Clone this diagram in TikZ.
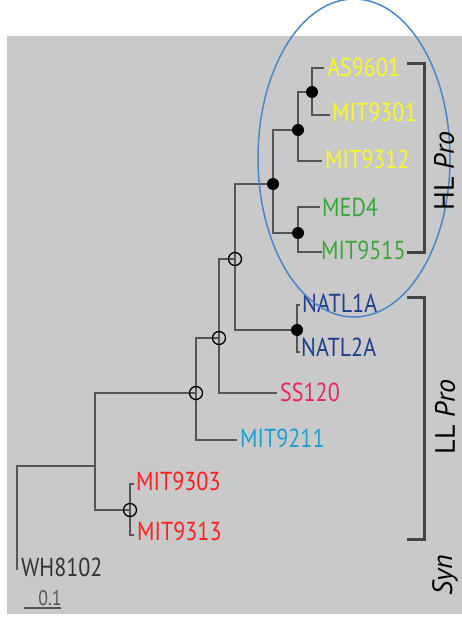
\documentclass[tikz,border=0pt]{standalone}
\usepackage{fontspec}
\setmainfont{PT Sans}[FakeStretch=0.85]
\newfontfamily\grpfont{PT Sans}
\definecolor{bg}{RGB}{201,201,201}
\definecolor{branchgray}{RGB}{85,85,85}
\definecolor{brackgray}{RGB}{68,68,68}
\definecolor{ellblue}{RGB}{74,134,200}
\definecolor{hlyellow}{RGB}{248,248,40}
\definecolor{hlgreen}{RGB}{59,165,59}
\definecolor{llnavy}{RGB}{30,61,140}
\definecolor{sspink}{RGB}{232,38,94}
\definecolor{mitcyan}{RGB}{26,160,208}
\definecolor{mitred}{RGB}{255,31,31}
\definecolor{synblack}{RGB}{51,51,51}
\begin{document}
\begin{tikzpicture}[x=1pt,y=-1pt,
  branch/.style={draw=branchgray, line width=2pt},
  brack/.style={draw=brackgray, line width=3pt},
  lab/.style={anchor=west, inner sep=0pt, font=\fontsize{26}{26}\selectfont},
  grp/.style={rotate=90, inner sep=0pt, font=\grpfont\fontsize{28}{28}\selectfont, text=black},
  fulldot/.style={circle, fill=black, inner sep=0pt, minimum size=12pt},
  opendot/.style={circle, draw=black, line width=1.3pt, inner sep=0pt, minimum size=13pt}]
\useasboundingbox (0,0) rectangle (462,617);
\fill[white] (0,0) rectangle (462,617);
\fill[bg] (7,36) rectangle (462,614);

% internal nodes
\coordinate (n1) at (312,92);
\coordinate (n2) at (298,130);
\coordinate (n3) at (298,233);
\coordinate (n4) at (273,184);
\coordinate (n5) at (235,259);
\coordinate (nat) at (297,330);
\coordinate (n6) at (219,338);
\coordinate (n7) at (196,393);
\coordinate (n8) at (130,510);
\coordinate (n9) at (95,466);
\coordinate (root) at (17,466);

% tips
\coordinate (tAS) at (324,68);
\coordinate (t9301) at (330,115);
\coordinate (t9312) at (322,161);
\coordinate (tMED) at (320,207);
\coordinate (t9515) at (322,252);
\coordinate (tN1) at (300,305);
\coordinate (tN2) at (300,352);
\coordinate (tSS) at (277,393);
\coordinate (t9211) at (237,440);
\coordinate (t9303) at (134,484);
\coordinate (t9313) at (134,535);
\coordinate (tWH) at (17,570);

% branches
\draw[branch] (n1) |- (tAS);
\draw[branch] (n1) |- (t9301);
\draw[branch] (n2) |- (n1);
\draw[branch] (n2) |- (t9312);
\draw[branch] (n3) |- (tMED);
\draw[branch] (n3) |- (t9515);
\draw[branch] (n4) |- (n2);
\draw[branch] (n4) |- (n3);
\draw[branch] (n5) |- (n4);
\draw[branch] (n5) |- (nat);
\draw[branch] (nat) |- (tN1);
\draw[branch] (nat) |- (tN2);
\draw[branch] (n6) |- (n5);
\draw[branch] (n6) |- (tSS);
\draw[branch] (n7) |- (n6);
\draw[branch] (n7) |- (t9211);
\draw[branch] (n9) |- (n7);
\draw[branch] (n9) |- (n8);
\draw[branch] (n8) |- (t9303);
\draw[branch] (n8) |- (t9313);
\draw[branch] (tWH) -- (root) -- (n9);

% node markers
\node[fulldot] (d1) at (n1) {};
\node[fulldot] (d2) at (n2) {};
\node[fulldot] (d3) at (n3) {};
\node[fulldot] (d4) at (n4) {};
\node[fulldot] (dnat) at (nat) {};
\node[opendot] (o5) at (n5) {};
\node[opendot] (o6) at (n6) {};
\node[opendot] (o7) at (n7) {};
\node[opendot] (o8) at (n8) {};

% labels
\node[lab, text=hlyellow] (lAS) at (327,67) {AS9601};
\node[lab, text=hlyellow] (l9301) at (332,112) {MIT9301};
\node[lab, text=hlyellow] (l9312) at (325,159) {MIT9312};
\node[lab, text=hlgreen] (lMED) at (322,207) {MED4};
\node[lab, text=hlgreen] (l9515) at (321,250) {MIT9515};
\node[lab, text=llnavy] (lN1) at (302,303) {NATL1A};
\node[lab, text=llnavy] (lN2) at (301,347) {NATL2A};
\node[lab, text=sspink] (lSS) at (280,392) {SS120};
\node[lab, text=mitcyan] (l9211) at (240,438) {MIT9211};
\node[lab, text=mitred] (l9303) at (136,481) {MIT9303};
\node[lab, text=mitred] (l9313) at (137,531) {MIT9313};
\node[lab, text=synblack] (lWH) at (21,567) {WH8102};

% scale bar
\coordinate (sb1) at (24,608);
\coordinate (sb2) at (61,608);
\draw[draw=branchgray, line width=1.5pt] (sb1) -- (sb2);
\node[inner sep=0pt, text=branchgray, font=\fontsize{21}{21}\selectfont, anchor=south] (sbl) at (50,606) {0.1};

% ellipse
\draw[ellblue, line width=1.5pt] (354,158) ellipse [x radius=96, y radius=159];

% brackets
\coordinate (hb1) at (407,64);
\coordinate (hb2) at (424,64);
\coordinate (hb3) at (424,252);
\coordinate (hb4) at (407,252);
\draw[brack] (hb1) -- (hb2) -- (hb3) -- (hb4);
\coordinate (lb1) at (407,297);
\coordinate (lb2) at (424,297);
\coordinate (lb3) at (424,539);
\coordinate (lb4) at (407,539);
\draw[brack] (lb1) -- (lb2) -- (lb3) -- (lb4);

\node[grp] (hl) at (444,171) {HL \textit{Pro}};
\node[grp] (ll) at (445,417) {LL \textit{Pro}};
\node[grp] (syn) at (445,575) {\textit{Syn}};
\end{tikzpicture}
\end{document}
